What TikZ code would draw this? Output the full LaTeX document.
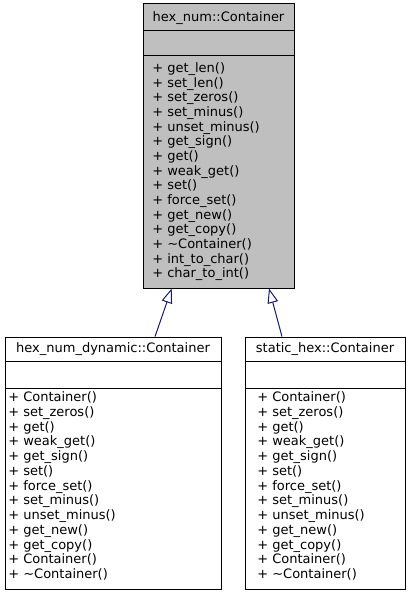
\documentclass[tikz,border=0pt]{standalone}
\usepackage{fontspec}
\setmainfont{DejaVu Sans}
\usetikzlibrary{arrows.meta,fit}
\definecolor{edgeblue}{HTML}{191970}
\definecolor{boxgray}{HTML}{BFBFBF}
\begin{document}
\begin{tikzpicture}[x=0.75pt,y=-0.75pt,
  box/.style={draw=black, line width=0.75pt, inner sep=0pt},
  sep/.style={draw=black, line width=0.75pt},
  txt/.style={anchor=base west, inner sep=0pt, font=\fontsize{9.75}{11}\selectfont},
  ttl/.style={anchor=base, inner sep=0pt, font=\fontsize{9.75}{11}\selectfont},
  inh/.style={draw=edgeblue, line width=0.75pt, {Triangle[open, length=11pt, width=8pt, fill=white]}-}]
\useasboundingbox (0,0) rectangle (411,595);
% base class
\node[box, fill=boxgray, fit={(143,4)(294,288)}] (base) {};
\draw[sep] (143,31) -- (294,31);
\draw[sep] (143,56) -- (294,56);
\node[ttl] (basetitle) at (218.5,22) {hex\_num::Container};
\foreach \t [count=\i] in {{get\_len()},{set\_len()},{set\_zeros()},{set\_minus()},{unset\_minus()},{get\_sign()},{get()},{weak\_get()},{set()},{force\_set()},{get\_new()},{get\_copy()},{\textasciitilde Container()},{int\_to\_char()},{char\_to\_int()}}
  \node[txt] (bm\i) at (152,{72.5+14.67*(\i-1)}) {+ \t};
% dynamic
\node[box, fill=white, fit={(5,337)(221,589)}] (dyn) {};
\draw[sep] (5,361) -- (221,361);
\draw[sep] (5,388) -- (221,388);
\node[ttl] (dyntitle) at (113,352.7) {hex\_num\_dynamic::Container};
\foreach \t [count=\i] in {{Container()},{set\_zeros()},{get()},{weak\_get()},{get\_sign()},{set()},{force\_set()},{set\_minus()},{unset\_minus()},{get\_new()},{get\_copy()},{Container()},{\textasciitilde Container()}}
  \node[txt] (dm\i) at (8,{401.7+14.75*(\i-1)}) {+ \t};
% static
\node[box, fill=white, fit={(245,337)(405,589)}] (sta) {};
\draw[sep] (245,361) -- (405,361);
\draw[sep] (245,388) -- (405,388);
\node[ttl] (statitle) at (325,352.7) {static\_hex::Container};
\foreach \t [count=\i] in {{Container()},{set\_zeros()},{get()},{weak\_get()},{get\_sign()},{set()},{force\_set()},{set\_minus()},{unset\_minus()},{get\_new()},{get\_copy()},{Container()},{\textasciitilde Container()}}
  \node[txt] (sm\i) at (257,{401.7+14.75*(\i-1)}) {+ \t};
% inheritance
\coordinate (e1t) at (171.7,288.4);
\coordinate (e1s) at (155,336.6);
\coordinate (e2t) at (269,288.4);
\coordinate (e2s) at (282,336.6);
\draw[inh] (e1t) -- (e1s);
\draw[inh] (e2t) -- (e2s);
\end{tikzpicture}
\end{document}
